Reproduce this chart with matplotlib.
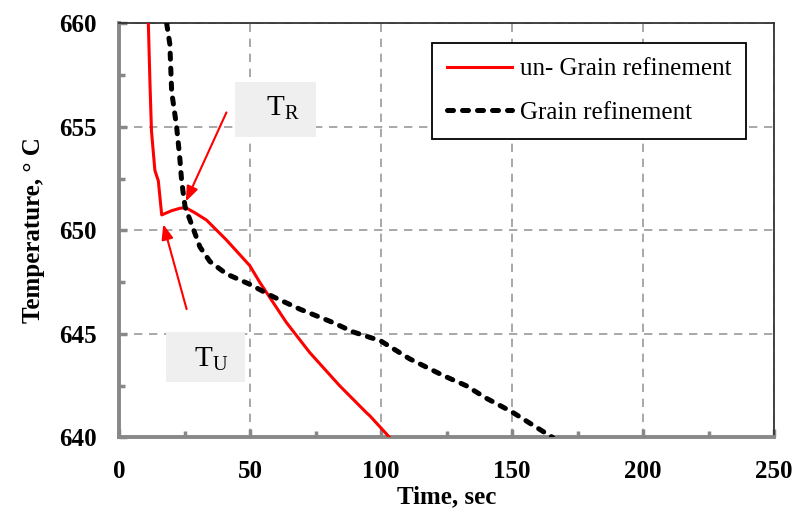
import numpy as np
import matplotlib
matplotlib.use("Agg")
import matplotlib.pyplot as plt
from matplotlib.ticker import MultipleLocator
from matplotlib.patches import Rectangle

# cooling curves
t_ungr = [11.2, 11.8, 12.4, 13.7, 15.0, 16.3, 20.0, 23.2, 25.5, 29.0, 33.4, 41.0,
          49.9, 53.7, 63.9, 72.8, 84.2, 94.4, 95.7, 103.3]
T_ungr = [660.0, 657.2, 654.8, 652.9, 652.4, 650.75, 650.95, 651.07, 651.1, 650.85,
          650.5, 649.54, 648.3, 647.5, 645.55, 644.1, 642.5, 641.2, 641.05, 640.0]

t_gr = [18.2, 19.4, 20.1, 22.0, 23.2, 23.9, 25.2, 27.1, 30.9, 34.7, 41.0, 49.9,
        58.8, 69.0, 81.7, 89.3, 99.8, 110.9, 123.6, 132.5, 140.1, 149.9, 157.9, 165.5]
T_gr = [660.0, 659.0, 656.7, 655.0, 653.5, 652.4, 651.15, 650.5, 649.2, 648.5, 647.9,
        647.4, 646.8, 646.2, 645.55, 645.1, 644.67, 643.8, 643.0, 642.5, 641.9,
        641.24, 640.6, 640.0]

x_ticks = [0, 50, 100, 150, 200, 250]
y_ticks = [640, 645, 650, 655, 660]

serif = ["Liberation Serif", "DejaVu Serif"]

fig = plt.figure(figsize=(7.97, 5.09), dpi=100)
ax = fig.add_axes([0.1493, 0.1405, 0.822, 0.8135])

ax.plot(t_ungr, T_ungr, color="red", lw=2.2, label="un- Grain refinement", zorder=3)
ax.plot(t_gr, T_gr, color="black", lw=3.6, ls=(0, (1.2, 1.8)), dash_capstyle="round",
        label="Grain refinement", zorder=3)

ax.set_xlim(0, 250)
ax.set_ylim(640, 660)
ax.set_xticks(x_ticks)
ax.set_yticks(y_ticks)
ax.xaxis.set_minor_locator(MultipleLocator(25))
ax.yaxis.set_minor_locator(MultipleLocator(2.5))
ax.tick_params(which="both", direction="in", color="#888888", width=2.5)
ax.tick_params(which="major", length=6, pad=16)
ax.tick_params(which="minor", length=4)
ax.set_xticklabels([str(v) for v in x_ticks], family=serif, fontweight="bold", fontsize=18)
ax.set_yticklabels([str(v) for v in y_ticks], family=serif, fontweight="bold", fontsize=18)

ax.grid(True, which="major", color="#999999", ls=(0, (5, 4)), lw=1.2)

for s in ["left", "bottom"]:
    ax.spines[s].set_color("#888888")
    ax.spines[s].set_linewidth(2.8)
for s in ["top", "right"]:
    ax.spines[s].set_color("#333333")
    ax.spines[s].set_linewidth(1.3)

ax.set_xlabel("Time, sec", family=serif, fontweight="bold", fontsize=18, labelpad=2)
ax.set_ylabel("Temperature, \u00b0 C", family=serif, fontweight="bold", fontsize=18,
              labelpad=10)

leg = ax.legend(loc="upper left", bbox_to_anchor=(0.478, 0.953), prop={"family": serif, "size": 18},
                frameon=True, fancybox=False, edgecolor="black", framealpha=1,
                handlelength=2.6, handletextpad=0.3, borderpad=0.6, labelspacing=0.85,
                borderaxespad=0)
leg.get_frame().set_linewidth(1.3)

# grey label boxes
ax.add_patch(Rectangle((44.2, 654.53), 30.9, 2.64, fc="#efefef", ec="none", zorder=2))
ax.add_patch(Rectangle((17.9, 642.69), 30.1, 2.40, fc="#efefef", ec="none", zorder=2))
ax.text(62.5, 655.9, "T$_\\mathregular{R}$", family=serif, fontsize=21, ha="center",
        va="center", zorder=4)
ax.text(35.2, 643.8, "T$_\\mathregular{U}$", family=serif, fontsize=21, ha="center",
        va="center", zorder=4)

arrow = dict(arrowstyle="-|>,head_length=0.9,head_width=0.35", color="red", lw=1.5,
             shrinkA=0, shrinkB=0)
ax.annotate("", xy=(25.5, 651.4), xytext=(41.0, 655.7), arrowprops=arrow, zorder=4)
ax.annotate("", xy=(16.9, 650.3), xytext=(25.8, 646.2), arrowprops=arrow, zorder=4)

fig.savefig("out.png", dpi=100)
